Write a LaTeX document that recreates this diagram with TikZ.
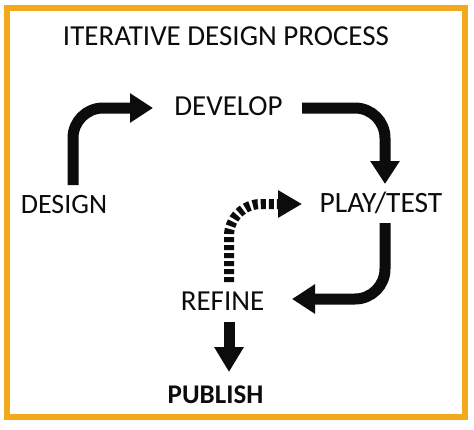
\documentclass[tikz,border=0pt]{standalone}
\usepackage{fontspec}
\setmainfont{Carlito}
\usetikzlibrary{arrows.meta}
\definecolor{frameorange}{RGB}{242,170,28}
\definecolor{ink}{RGB}{12,12,12}
\tikzset{
  lbl/.style={anchor=base,inner sep=0pt,text=ink,font=\fontsize{29}{31}\selectfont},
  bigarrow/.style={draw=ink,line width=11pt,rounded corners=30pt,
    -{Triangle[length=23pt,width=28pt]}},
  dasharrow/.style={draw=ink,line width=10pt,rounded corners=32pt,
    dash pattern=on 5pt off 3pt,-{Triangle[length=24pt,width=26pt]}}
}
\begin{document}
\begin{tikzpicture}[x=1pt,y=-1pt]
\useasboundingbox (0,0) rectangle (474,429);
\fill[white] (0,0) rectangle (474,429);
\draw[frameorange,line width=6.5pt] (7,8) rectangle (465,417);

\node[lbl] (title) at (226,45) {ITERATIVE DESIGN PROCESS};
\node[lbl] (develop) at (228.5,115) {DEVELOP};
\node[lbl,font=\fontsize{28}{30}\selectfont] (design) at (64,213) {DESIGN};
\node[lbl,font=\fontsize{29.5}{31}\selectfont] (play) at (381,212) {PLAY/TEST};
\node[lbl] (refine) at (222.5,310) {REFINE};
\node[lbl,font=\fontsize{27}{29}\selectfont\bfseries] (publish) at (215.5,403) {PUBLISH};

% connector end points
\coordinate (a1s) at (73,185);
\coordinate (a1e) at (153,108);
\coordinate (a2s) at (302,108);
\coordinate (a2e) at (385,184);
\coordinate (a3s) at (385,223);
\coordinate (a3e) at (292,299);
\coordinate (a4s) at (229,282);
\coordinate (a4e) at (302,204);
\coordinate (a5s) at (229,322);
\coordinate (a5e) at (229,372);

\draw[bigarrow] (a1s) |- (a1e);
\draw[bigarrow] (a2s) -| (a2e);
\draw[bigarrow] (a3s) |- (a3e);
\draw[dasharrow] (a4s) |- (a4e);
\draw[bigarrow,-{Triangle[length=25pt,width=28pt]}] (a5s) -- (a5e);
\end{tikzpicture}
\end{document}
